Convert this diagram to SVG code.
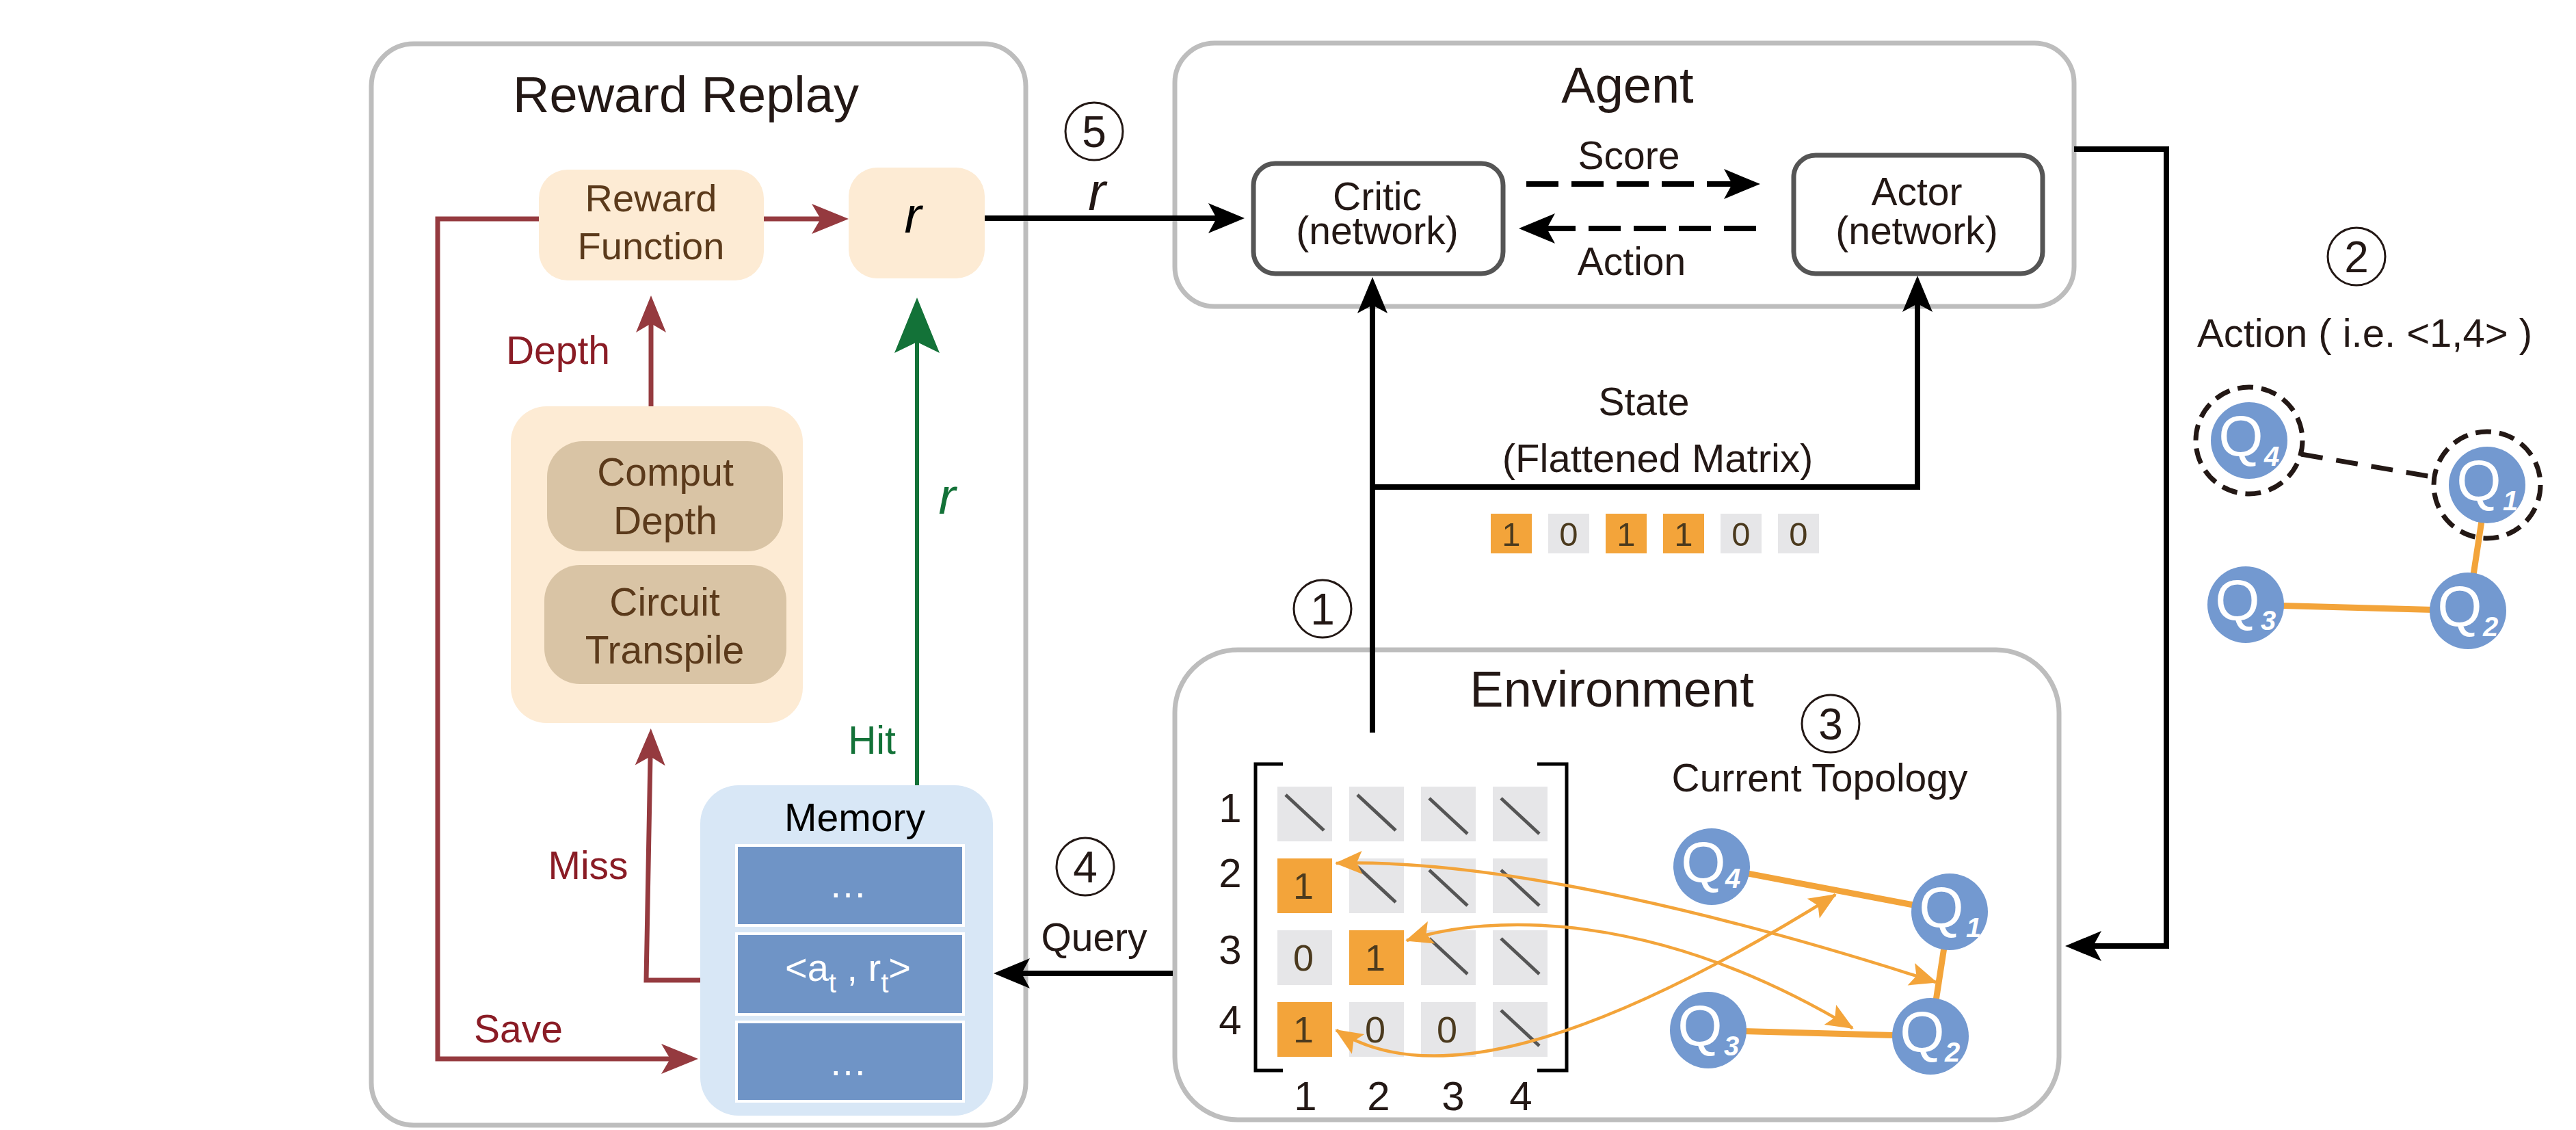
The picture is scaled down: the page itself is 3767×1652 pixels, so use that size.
<svg xmlns="http://www.w3.org/2000/svg" width="3767" height="1652" viewBox="0 0 3767 1652">
<style>
text{font-family:"Liberation Sans",Arial,sans-serif;}
.title{font-size:74px;fill:#231815;text-anchor:middle;}
.lbl{font-size:57px;fill:#231815;text-anchor:middle;}
.brown{font-size:57px;fill:#5b3a1b;text-anchor:middle;}
.red{font-size:57px;fill:#8a1c25;text-anchor:middle;}
.green{font-size:57px;fill:#137238;text-anchor:middle;}
.it{font-style:italic;}
.panel{fill:#fff;stroke:#bdbdbd;stroke-width:7;}
.peach{fill:#fdebd4;}
.tan{fill:#d9c4a5;}
.net{fill:#fff;stroke:#555;stroke-width:7;}
.cell{fill:#6f94c6;stroke:#fff;stroke-width:4;}
.cellt{font-size:56px;fill:#fff;text-anchor:middle;}
.num{fill:none;stroke:#231815;stroke-width:3;}
.numt{font-size:64px;fill:#231815;text-anchor:middle;}
.blk{fill:none;stroke:#000;stroke-width:8;}
.redl{fill:none;stroke:#953a3f;stroke-width:7;}
.grn{fill:none;stroke:#137238;stroke-width:6;}
.org{fill:none;stroke:#f3a43a;stroke-width:4.5;}
.edge{stroke:#f3a43a;stroke-width:9;}
.qn{fill:#7399d0;}
.q{font-size:84px;fill:#fff;text-anchor:middle;}
.qs{font-size:40px;fill:#fff;font-style:italic;font-weight:bold;text-anchor:middle;}
.g{fill:#e6e6e8;}
.o{fill:#f3a43a;}
.d{font-size:54px;fill:#4b3a1e;text-anchor:middle;}
.diag{stroke:#555;stroke-width:5;}
.br{fill:none;stroke:#000;stroke-width:5;}
</style>
<defs>
<marker id="ab" markerUnits="userSpaceOnUse" viewBox="0 -25 56 50" markerWidth="56" markerHeight="50" refX="12" refY="0" orient="auto" overflow="visible"><path d="M0,-22 L53,0 L0,22 L12,0 Z" fill="#000"/></marker>
<marker id="ar" markerUnits="userSpaceOnUse" viewBox="0 -25 56 50" markerWidth="56" markerHeight="50" refX="13" refY="0" orient="auto" overflow="visible"><path d="M0,-22 L54,0 L0,22 L13,0 Z" fill="#953a3f"/></marker>
<marker id="ag" markerUnits="userSpaceOnUse" viewBox="0 -35 84 70" markerWidth="84" markerHeight="70" refX="16" refY="0" orient="auto" overflow="visible"><path d="M0,-33 L81,0 L0,33 L16,0 Z" fill="#137238"/></marker>
<marker id="ao" markerUnits="userSpaceOnUse" viewBox="0 -20 42 40" markerWidth="42" markerHeight="40" refX="38" refY="0" orient="auto-start-reverse" overflow="visible"><path d="M0,-17 L40,0 L0,17 L8,0 Z" fill="#f3a43a"/></marker>
</defs>
<rect width="3767" height="1652" fill="#fff"/>

<g id="reward-replay">
<rect class="panel" x="543" y="64" width="957" height="1581" rx="62"/>
<text class="title" x="1003" y="164">Reward Replay</text>
</g>
<g id="agent">
<rect class="panel" x="1718" y="63" width="1315" height="385" rx="58"/>
<text class="title" x="2380" y="150">Agent</text>
</g>
<g id="environment">
<rect class="panel" x="1718" y="950" width="1293" height="687" rx="92"/>
<text class="title" x="2357" y="1033">Environment</text>
</g>

<g id="reward-function">
<rect class="peach" x="788" y="248" width="329" height="162" rx="42"/>
<text class="brown" x="952" y="309" style="font-size:56px">Reward</text>
<text class="brown" x="952" y="379" style="font-size:56px">Function</text>
</g>
<g id="r-box">
<rect class="peach" x="1241" y="245" width="199" height="162" rx="42"/>
<text class="lbl it" x="1335" y="340" style="font-size:75px;fill:#000">r</text>
</g>
<g id="compute-box">
<rect class="peach" x="747" y="594" width="427" height="463" rx="52"/>
</g>
<g id="comput-depth">
<rect class="tan" x="800" y="645" width="345" height="161" rx="52"/>
<text class="brown" x="973" y="710">Comput</text>
<text class="brown" x="973" y="781">Depth</text>
</g>
<g id="circuit-transpile">
<rect class="tan" x="796" y="826" width="354" height="174" rx="52"/>
<text class="brown" x="972" y="900">Circuit</text>
<text class="brown" x="972" y="970">Transpile</text>
</g>
<g id="memory">
<rect x="1024" y="1148" width="428" height="483" rx="56" fill="#d8e7f6"/>
<text class="lbl" x="1250" y="1215" style="fill:#000">Memory</text>
<rect class="cell" x="1077" y="1236" width="332" height="117"/>
<rect class="cell" x="1077" y="1365" width="332" height="118"/>
<rect class="cell" x="1077" y="1494" width="332" height="116"/>
<text class="cellt" x="1240" y="1312">…</text>
<text class="cellt" x="1240" y="1434">&lt;a<tspan font-size="40" dy="17">t</tspan><tspan dy="-17"> , r</tspan><tspan font-size="40" dy="17">t</tspan><tspan dy="-17">&gt;</tspan></text>
<text class="cellt" x="1240" y="1572">…</text>
</g>

<g id="critic">
<rect class="net" x="1833" y="239" width="365" height="161" rx="32"/>
<text class="lbl" x="2014" y="307">Critic</text>
<text class="lbl" x="2014" y="357">(network)</text>
</g>
<g id="actor">
<rect class="net" x="2623" y="227" width="364" height="173" rx="32"/>
<text class="lbl" x="2803" y="300">Actor</text>
<text class="lbl" x="2803" y="357">(network)</text>
</g>

<g id="state-vector">
<text class="lbl" x="2404" y="607">State</text>
<text class="lbl" x="2424" y="690" style="font-size:58px">(Flattened Matrix)</text>
<rect class="o" x="2180" y="751" width="60" height="58"/>
<rect class="g" x="2264" y="751" width="60" height="58"/>
<rect class="o" x="2348" y="751" width="60" height="58"/>
<rect class="o" x="2432" y="751" width="60" height="58"/>
<rect class="g" x="2516" y="751" width="60" height="58"/>
<rect class="g" x="2600" y="751" width="60" height="58"/>
<text class="d" style="font-size:49px" x="2210" y="798">1</text>
<text class="d" style="font-size:49px" x="2294" y="798">0</text>
<text class="d" style="font-size:49px" x="2378" y="798">1</text>
<text class="d" style="font-size:49px" x="2462" y="798">1</text>
<text class="d" style="font-size:49px" x="2546" y="798">0</text>
<text class="d" style="font-size:49px" x="2630" y="798">0</text>
</g>

<g id="matrix">
<path class="br" d="M1876,1117 H1836 V1565 H1876"/>
<path class="br" d="M2248,1117 H2291 V1565 H2248"/>
<g class="lbl" style="font-size:60px">
<text class="lbl" style="font-size:60px" x="1799" y="1202">1</text>
<text class="lbl" style="font-size:60px" x="1799" y="1297">2</text>
<text class="lbl" style="font-size:60px" x="1799" y="1409">3</text>
<text class="lbl" style="font-size:60px" x="1799" y="1512">4</text>
<text class="lbl" style="font-size:60px" x="1909" y="1623">1</text>
<text class="lbl" style="font-size:60px" x="2016" y="1623">2</text>
<text class="lbl" style="font-size:60px" x="2125" y="1623">3</text>
<text class="lbl" style="font-size:60px" x="2224" y="1623">4</text>
</g>
<rect class="g" x="1868" y="1150" width="80" height="80"/>
<rect class="g" x="1973" y="1150" width="80" height="80"/>
<rect class="g" x="2078" y="1150" width="80" height="80"/>
<rect class="g" x="2183" y="1150" width="80" height="80"/>
<rect class="o" x="1868" y="1255" width="80" height="80"/>
<rect class="g" x="1973" y="1255" width="80" height="80"/>
<rect class="g" x="2078" y="1255" width="80" height="80"/>
<rect class="g" x="2183" y="1255" width="80" height="80"/>
<rect class="g" x="1868" y="1360" width="80" height="80"/>
<rect class="o" x="1973" y="1360" width="80" height="80"/>
<rect class="g" x="2078" y="1360" width="80" height="80"/>
<rect class="g" x="2183" y="1360" width="80" height="80"/>
<rect class="o" x="1868" y="1465" width="80" height="80"/>
<rect class="g" x="1973" y="1465" width="80" height="80"/>
<rect class="g" x="2078" y="1465" width="80" height="80"/>
<rect class="g" x="2183" y="1465" width="80" height="80"/>
<line class="diag" x1="1880" y1="1162" x2="1936" y2="1214"/>
<line class="diag" x1="1985" y1="1162" x2="2041" y2="1214"/>
<line class="diag" x1="2090" y1="1167" x2="2146" y2="1219"/>
<line class="diag" x1="2195" y1="1167" x2="2251" y2="1219"/>
<line class="diag" x1="1985" y1="1267" x2="2041" y2="1319"/>
<line class="diag" x1="2090" y1="1272" x2="2146" y2="1324"/>
<line class="diag" x1="2195" y1="1272" x2="2251" y2="1324"/>
<line class="diag" x1="2090" y1="1372" x2="2146" y2="1424"/>
<line class="diag" x1="2195" y1="1372" x2="2251" y2="1424"/>
<line class="diag" x1="2195" y1="1477" x2="2251" y2="1529"/>
<text class="d" x="1906" y="1314">1</text>
<text class="d" x="1906" y="1419">0</text>
<text class="d" x="2011" y="1419">1</text>
<text class="d" x="1906" y="1524">1</text>
<text class="d" x="2011" y="1524">0</text>
<text class="d" x="2116" y="1524">0</text>
</g>

<g id="current-topology">
<text class="lbl" x="2661" y="1157">Current Topology</text>
<line class="edge" x1="2503" y1="1267" x2="2851" y2="1333"/>
<line class="edge" x1="2498" y1="1506" x2="2823" y2="1515"/>
<line class="edge" x1="2851" y1="1333" x2="2823" y2="1515"/>
<g id="env-q4"><circle class="qn" cx="2503" cy="1267" r="56"/><text class="q" x="2491" y="1289">Q</text><text class="qs" x="2534" y="1298">4</text></g>
<g id="env-q1"><circle class="qn" cx="2851" cy="1333" r="56"/><text class="q" x="2839" y="1355">Q</text><text class="qs" x="2886" y="1370">1</text></g>
<g id="env-q3"><circle class="qn" cx="2498" cy="1506" r="56"/><text class="q" x="2486" y="1528">Q</text><text class="qs" x="2532" y="1543">3</text></g>
<g id="env-q2"><circle class="qn" cx="2823" cy="1515" r="56"/><text class="q" x="2811" y="1537">Q</text><text class="qs" x="2855" y="1552">2</text></g>
</g>

<g id="action-topology">
<text class="lbl" x="3458" y="507" style="font-size:58px">Action ( i.e. &lt;1,4&gt; )</text>
<line x1="3365" y1="664" x2="3556" y2="697" stroke="#231815" stroke-width="7" stroke-dasharray="32 20"/>
<line class="edge" x1="3284" y1="884" x2="3609" y2="893"/>
<line class="edge" x1="3637" y1="709" x2="3609" y2="893"/>
<g id="act-q4"><circle class="qn" cx="3289" cy="644" r="56"/><circle cx="3289" cy="644" r="78" fill="none" stroke="#231815" stroke-width="7" stroke-dasharray="23 12"/><text class="q" x="3277" y="666">Q</text><text class="qs" x="3322" y="681">4</text></g>
<g id="act-q1"><circle class="qn" cx="3637" cy="709" r="56"/><circle cx="3637" cy="709" r="78" fill="none" stroke="#231815" stroke-width="7" stroke-dasharray="23 12"/><text class="q" x="3625" y="731">Q</text><text class="qs" x="3671" y="746">1</text></g>
<g id="act-q3"><circle class="qn" cx="3284" cy="884" r="56"/><text class="q" x="3272" y="906">Q</text><text class="qs" x="3317" y="921">3</text></g>
<g id="act-q2"><circle class="qn" cx="3609" cy="893" r="56"/><text class="q" x="3597" y="915">Q</text><text class="qs" x="3642" y="930">2</text></g>
</g>

<g id="step-markers">
<circle class="num" cx="1934" cy="890" r="42"/><text class="numt" x="1934" y="913">1</text>
<circle class="num" cx="3446" cy="375" r="42"/><text class="numt" x="3446" y="398">2</text>
<circle class="num" cx="2677" cy="1058" r="42"/><text class="numt" x="2677" y="1081">3</text>
<circle class="num" cx="1587" cy="1267" r="42"/><text class="numt" x="1587" y="1290">4</text>
<circle class="num" cx="1600" cy="192" r="42"/><text class="numt" x="1600" y="215">5</text>
</g>

<g id="connectors">
<path class="redl" d="M1117,320 H1200" marker-end="url(#ar)"/>
<path class="redl" d="M788,320 H640 V1548 H980" marker-end="url(#ar)"/>
<path class="redl" d="M1024,1433 H945 L951,1106" marker-end="url(#ar)"/>
<path class="redl" d="M952,594 V473" marker-end="url(#ar)"/>
<path class="grn" d="M1341,1148 V500" marker-end="url(#ag)"/>
<path class="blk" d="M1440,319 H1779" marker-end="url(#ab)"/>
<path class="blk" d="M2232,269 H2533" stroke-dasharray="47 19" marker-end="url(#ab)"/>
<path class="blk" d="M2568,334 H2262" stroke-dasharray="47 19" marker-end="url(#ab)"/>
<path class="blk" d="M2007,1071 V446" marker-end="url(#ab)"/>
<path class="blk" d="M2007,712 H2804 V444" marker-end="url(#ab)"/>
<path class="blk" d="M3033,218 H3168 V1383 H3061" marker-end="url(#ab)"/>
<path class="blk" d="M1715,1423 H1494" marker-end="url(#ab)"/>
<path class="org" d="M1954,1262 C2200,1255 2550,1345 2831,1436" marker-start="url(#ao)" marker-end="url(#ao)"/>
<path class="org" d="M2057,1375 C2180,1335 2420,1330 2709,1503" marker-start="url(#ao)" marker-end="url(#ao)"/>
<path class="org" d="M1954,1506 C2070,1580 2280,1560 2684,1308" marker-start="url(#ao)" marker-end="url(#ao)"/>
<text class="red" x="816" y="532">Depth</text>
<text class="red" x="860" y="1285">Miss</text>
<text class="red" x="758" y="1524">Save</text>
<text class="green" x="1275" y="1102">Hit</text>
<text class="green it" x="1385" y="751" style="font-size:75px">r</text>
<text class="lbl it" x="1604" y="307" style="font-size:77px">r</text>
<text class="lbl" x="1600" y="1390">Query</text>
<text class="lbl" x="2382" y="247">Score</text>
<text class="lbl" x="2386" y="402">Action</text>
</g>
</svg>
